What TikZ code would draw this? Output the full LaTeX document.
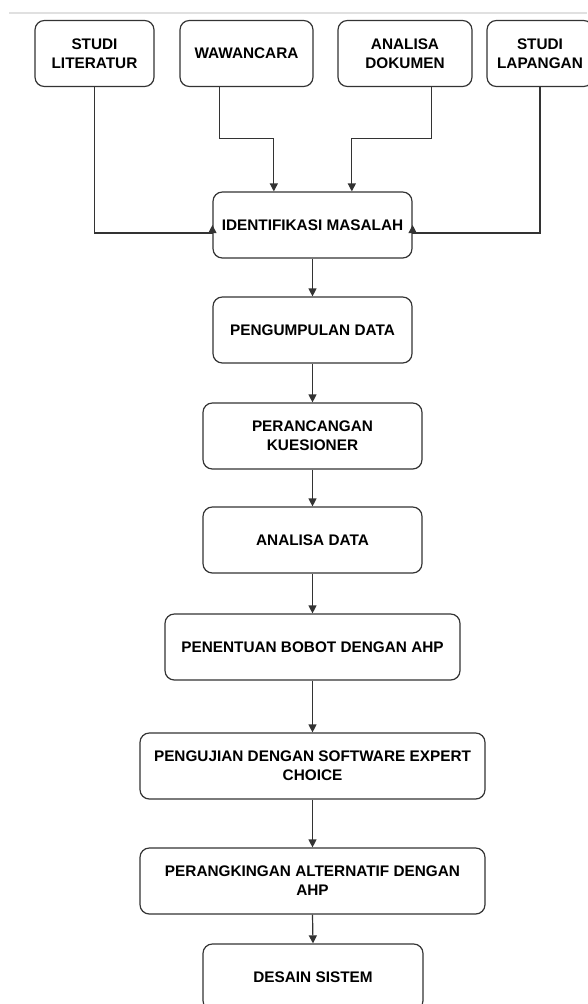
\documentclass[tikz,border=0pt]{standalone}
\usepackage{fontspec}
\setmainfont{Liberation Sans}
\usetikzlibrary{arrows.meta}
\begin{document}
\begin{tikzpicture}[x=.75pt, y=-.75pt,
  box/.style={draw=black!80, line width=.9pt, rounded corners=7pt, minimum height=49.5pt,
    inner sep=2pt, align=center, font=\bfseries\fontsize{11.5pt}{14.25pt}\selectfont},
  arr/.style={draw=black!80, line width=.9pt, -{Triangle[length=6pt,width=6pt]}}]
  \useasboundingbox (0,0) rectangle (587,1004);
  \draw[black!12, line width=1.5pt] (9,12.5) -- (587,12.5);
  \node[box, minimum width=89.25pt] (lit) at (94.5,53.5) {STUDI\\LITERATUR};
  \node[box, minimum width=99.75pt] (waw) at (246.5,53.5) {WAWANCARA};
  \node[box, minimum width=100.5pt] (dok) at (405,53.5) {ANALISA\\DOKUMEN};
  \node[box, minimum width=79.5pt] (lap) at (540,53.5) {STUDI\\LAPANGAN};
  \node[box, minimum width=149.25pt] (ident) at (312.5,225) {IDENTIFIKASI MASALAH};
  \node[box, minimum width=149.25pt] (kumpul) at (312.5,330) {PENGUMPULAN DATA};
  \node[box, minimum width=164.25pt] (kuesioner) at (312.5,436) {PERANCANGAN\\KUESIONER};
  \node[box, minimum width=164.25pt] (analisa) at (312.5,540) {ANALISA DATA};
  \node[box, minimum width=221.25pt] (bobot) at (312.5,647) {PENENTUAN BOBOT DENGAN AHP};
  \node[box, minimum width=258.75pt] (uji) at (312.5,766) {PENGUJIAN DENGAN SOFTWARE EXPERT\\CHOICE};
  \node[box, minimum width=258.75pt] (rank) at (312.5,881) {PERANGKINGAN ALTERNATIF DENGAN\\AHP};
  \node[box, minimum width=165pt] (desain) at (313,977) {DESAIN SISTEM};
  \draw[arr] (lit.south) |- ([yshift=-6pt]ident.west) -- (ident.west);
  \draw[arr] (lap.south) |- ([yshift=-6pt]ident.east) -- (ident.east);
  \draw[arr] ([xshift=-20pt]waw.south) -- ++(0,51) -| ([xshift=-29pt]ident.north);
  \draw[arr] ([xshift=20pt]dok.south) -- ++(0,51) -| ([xshift=29.5pt]ident.north);
  \draw[arr] (ident.south) -- (kumpul.north);
  \draw[arr] (kumpul.south) -- (kuesioner.north);
  \draw[arr] (kuesioner.south) -- (analisa.north);
  \draw[arr] (analisa.south) -- (bobot.north);
  \draw[arr] (bobot.south) -- (uji.north);
  \draw[arr] (uji.south) -- (rank.north);
  \draw[arr] (rank.south) -- (desain.north);
\end{tikzpicture}
\end{document}
